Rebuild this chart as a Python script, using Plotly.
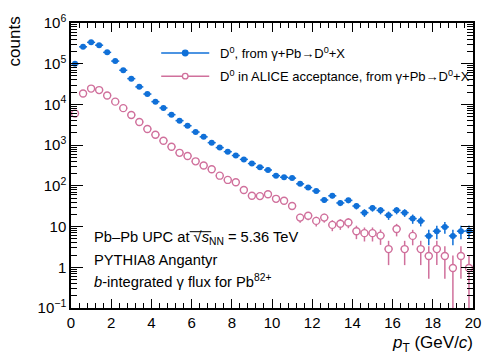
import plotly.graph_objects as go

# ---- data ----
pt = [0.2 + 0.4 * i for i in range(50)]
pt_halfwidth = [0.2] * 50

d0_all = [1.0e5, 2.6e5, 3.35e5, 2.85e5, 1.9e5, 1.16e5, 6.9e4, 4.3e4, 2.7e4, 1.8e4,
          1.17e4, 8.2e3, 5.6e3, 4.0e3, 3.0e3, 2.1e3, 1.6e3, 1150, 870, 690,
          556, 447, 353, 285, 245, 178, 163, 155, 112, 91,
          75, 45, 57, 38, 44, 32, 22, 28.5, 25, 19,
          25, 22, 15.7, 13.8, 5.9, 7.7, 9.8, 5.9, 7.7, 7.8]
d0_all_err = [316, 510, 579, 534, 436, 341, 263, 207, 164, 134,
              108, 91, 75, 63, 55, 46, 40, 34, 29.5, 26.3,
              23.6, 21.1, 18.8, 16.9, 15.7, 13.3, 12.8, 12.4, 10.6, 9.5,
              8.7, 6.7, 7.5, 6.2, 6.6, 5.7, 4.7, 5.3, 5.0, 4.4,
              5.0, 4.7, 4.0, 3.7, 2.4, 2.8, 3.1, 2.4, 2.8, 2.8]

d0_acc = [5960, 1.86e4, 2.45e4, 2.25e4, 1.66e4, 1.17e4, 8.1e3, 5.5e3, 3.7e3, 2.5e3,
          1.8e3, 1280, 910, 647, 540, 400, 316, 256, 178, 140,
          123, 79, 57, 56, 62, 48, 43, 32, 16.6, 18.5,
          13.8, 16.6, 11, 11.7, 12.6, 7.7, 6.9, 6.9, 6.0, 2.8,
          8.7, 2.8, 5.9, 2.8, 1.9, 2.8, 1.9, 0.96, 1.9, 0.96]
d0_acc_err = [77, 136, 157, 150, 129, 108, 90, 74, 61, 50,
              42, 36, 30, 25.4, 23.2, 20, 17.8, 16, 13.3, 11.8,
              11.1, 8.9, 7.5, 7.5, 7.9, 6.9, 6.6, 5.7, 4.1, 4.3,
              3.7, 4.1, 3.3, 3.4, 3.5, 2.8, 2.6, 2.6, 2.45, 1.67,
              2.95, 1.67, 2.43, 1.67, 1.38, 1.67, 1.38, 0.98, 1.38, 0.98]

ytick_vals = [0.1, 1, 10, 100, 1e3, 1e4, 1e5, 1e6]
ytick_text = ["10<sup>\u22121</sup>", "1", "10", "10<sup>2</sup>", "10<sup>3</sup>",
              "10<sup>4</sup>", "10<sup>5</sup>", "10<sup>6</sup>"]

BLUE = "#1070d8"
PINK = "#d0709c"
FONT = "Liberation Sans"

W, H = 493, 357
L, R, T, B = 71, 12, 13, 49
PW, PH = W - L - R, H - T - B


def px(x):
    return (x - L) / PW


def py(y):
    return (H - B - y) / PH


fig = go.Figure()
fig.add_trace(go.Scatter(
    x=pt, y=d0_acc, mode="markers",
    marker=dict(symbol="circle", size=7, color="white", line=dict(color=PINK, width=1.4)),
    error_y=dict(type="data", array=d0_acc_err, color=PINK, thickness=1.5, width=0),
    error_x=dict(type="data", array=pt_halfwidth, color=PINK, thickness=1.5, width=0),
    showlegend=False))
fig.add_trace(go.Scatter(
    x=pt, y=d0_all, mode="markers",
    marker=dict(symbol="circle", size=6, color=BLUE),
    error_y=dict(type="data", array=d0_all_err, color=BLUE, thickness=1.5, width=0),
    error_x=dict(type="data", array=pt_halfwidth, color=BLUE, thickness=1.5, width=0),
    showlegend=False))

axis_common = dict(showline=True, linecolor="black", linewidth=1.5, mirror="allticks",
                   ticks="inside", tickcolor="black", tickwidth=1, showgrid=False,
                   zeroline=False, tickfont=dict(family=FONT, size=15, color="black"))

fig.update_xaxes(range=[0, 20], dtick=2, tick0=0, ticklen=9,
                 minor=dict(dtick=0.4, tick0=0, ticklen=5, ticks="inside", tickcolor="black", showgrid=False),
                 **axis_common)
fig.update_yaxes(type="log", range=[-1, 6], tickmode="array", tickvals=ytick_vals, ticktext=ytick_text,
                 ticklen=12,
                 minor=dict(dtick="D1", ticklen=6, ticks="inside", tickcolor="black", showgrid=False),
                 **axis_common)

shapes = []
ann = []
# legend (manual)
for yy, col, filled, label in [
    (44, BLUE, True, "D<sup>0</sup>, from \u03b3+Pb\u2192D<sup>0</sup>+X"),
    (68, PINK, False, "D<sup>0</sup> in ALICE acceptance, from \u03b3+Pb\u2192D<sup>0</sup>+X"),
]:
    shapes.append(dict(type="line", xref="paper", yref="paper", x0=px(163), x1=px(212),
                       y0=py(yy), y1=py(yy), line=dict(color=col, width=1.5)))
    shapes.append(dict(type="circle", xref="paper", yref="paper", xsizemode="pixel", ysizemode="pixel",
                       xanchor=px(187.5), yanchor=py(yy), x0=-2.8, x1=2.8, y0=-2.8, y1=2.8,
                       fillcolor=col if filled else "white", line=dict(color=col, width=1.3)))
    ann.append(dict(xref="paper", yref="paper", x=px(221), y=py(yy), xanchor="left", yanchor="middle",
                    text=label, showarrow=False, font=dict(family=FONT, size=13, color="black")))

# text block
for yy, txt in [
    (236, "Pb\u2013Pb UPC at \u221a<i>s</i><sub>NN</sub> = 5.36 TeV"),
    (258, "PYTHIA8 Angantyr"),
    (280, "<i>b</i>-integrated \u03b3 flux for Pb<sup>82+</sup>"),
]:
    ann.append(dict(xref="paper", yref="paper", x=px(92), y=py(yy), xanchor="left", yanchor="middle",
                    text=txt, showarrow=False, font=dict(family=FONT, size=14.7, color="black")))

# overline of the square root
shapes.append(dict(type="line", xref="paper", yref="paper", x0=px(192), x1=px(214),
                   y0=py(229), y1=py(229), line=dict(color="black", width=1)))

# axis titles
ann.append(dict(xref="paper", yref="paper", x=px(483), y=py(345), xanchor="right", yanchor="middle",
                text="<i>p</i><sub>T</sub> (GeV/<i>c</i>)", showarrow=False,
                font=dict(family=FONT, size=17, color="black")))
ann.append(dict(xref="paper", yref="paper", x=px(13), y=py(4), xanchor="center", yanchor="top",
                text="counts", textangle=-90, showarrow=False,
                font=dict(family=FONT, size=17, color="black")))

fig.update_layout(width=W, height=H, margin=dict(l=L, r=R, t=T, b=B),
                  paper_bgcolor="white", plot_bgcolor="white",
                  shapes=shapes, annotations=ann, showlegend=False,
                  font=dict(family=FONT, color="black"))

fig.write_html("out.html")
